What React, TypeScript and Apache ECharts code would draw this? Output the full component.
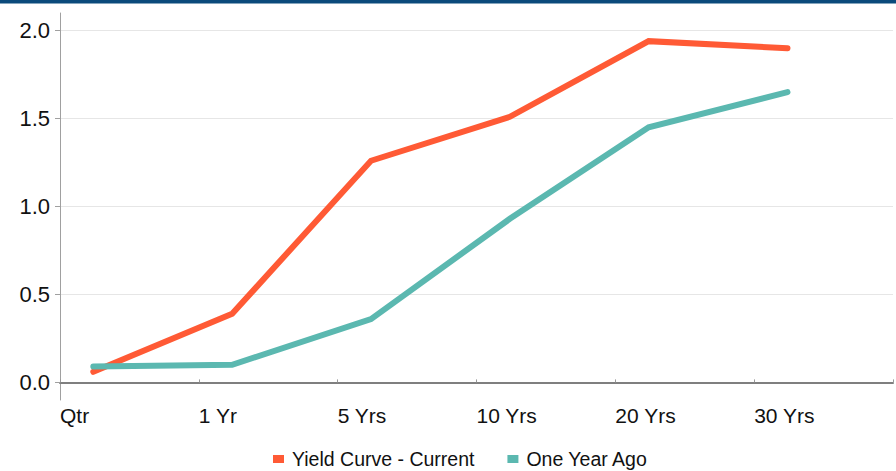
import React, { useEffect, useRef } from "react";
import * as echarts from "echarts";

const categories = ["Qtr", "1 Yr", "5 Yrs", "10 Yrs", "20 Yrs", "30 Yrs"];
const currentValues = [0.06, 0.39, 1.26, 1.51, 1.94, 1.9];
const yearAgoValues = [0.09, 0.1, 0.36, 0.93, 1.45, 1.65];
const yTicks = [0, 0.5, 1.0, 1.5, 2.0];
const seriesNames = ["Yield Curve - Current", "One Year Ago"];

export default function App() {
  const ref = useRef<HTMLDivElement>(null);
  useEffect(() => {
    if (!ref.current) return;
    const chart = echarts.init(ref.current, null, { renderer: "svg" });
    const font = "Liberation Sans, Arial, sans-serif";
    chart.setOption({
      animation: false,
      backgroundColor: "#ffffff",
      textStyle: { fontFamily: font },
      graphic: [
        {
          type: "rect",
          shape: { x: 0, y: 0, width: 896, height: 3.5 },
          style: { fill: "#0b4a7b" },
          z: 10,
        },
      ],
      grid: { left: 60, right: 3, top: 13, bottom: 71, containLabel: false },
      legend: {
        bottom: -3,
        left: 268,
        icon: "rect",
        itemWidth: 11,
        itemHeight: 8,
        itemGap: 33,
        textStyle: {
          fontSize: 19.5,
          color: "#111",
          fontFamily: font,
          padding: [0, 0, 0, 3],
        },
        data: seriesNames,
      },
      xAxis: [
        {
          type: "value",
          min: 0,
          max: categories.length,
          interval: 1,
          axisLine: { show: true, lineStyle: { color: "#7f7f7f", width: 2 } },
          axisTick: { show: true, inside: true, length: 3, lineStyle: { color: "#999" } },
          splitLine: { show: false },
          axisLabel: {
            formatter: (v: number) => categories[v] ?? "",
            align: "left",
            margin: 5,
            fontSize: 21,
            color: "#111",
            fontFamily: font,
            showMaxLabel: true,
          },
        },
        {
          type: "value",
          min: -0.24,
          max: categories.length - 0.24,
          show: false,
        },
      ],
      yAxis: {
        type: "value",
        min: -0.1,
        max: 2.1,
        axisLine: { show: true, lineStyle: { color: "#a0a0a0", width: 1 } },
        axisTick: {
          show: true,
          length: 5,
          customValues: yTicks,
          lineStyle: { color: "#a0a0a0" },
        },
        splitLine: { show: true, lineStyle: { color: "#e6e6e6", width: 1 } },
        axisLabel: {
          customValues: yTicks,
          formatter: (v: number) => v.toFixed(1),
          margin: 10,
          fontSize: 22,
          color: "#111",
          fontFamily: font,
        },
      },
      series: [
        {
          name: seriesNames[0],
          type: "line",
          xAxisIndex: 1,
          data: currentValues.map((v, i) => [i, v]),
          showSymbol: false,
          symbol: "none",
          lineStyle: { color: "#ff5a35", width: 6, cap: "round", join: "miter" },
          itemStyle: { color: "#ff5a35" },
          z: 3,
        },
        {
          name: seriesNames[1],
          type: "line",
          xAxisIndex: 1,
          data: yearAgoValues.map((v, i) => [i, v]),
          showSymbol: false,
          symbol: "none",
          lineStyle: { color: "#5bb8b0", width: 6, cap: "round", join: "miter" },
          itemStyle: { color: "#5bb8b0" },
          z: 4,
        },
      ],
    });
    return () => chart.dispose();
  }, []);
  return <div ref={ref} style={{ width: 896, height: 471, position: "fixed", left: 0, top: 0 }} />;
}
